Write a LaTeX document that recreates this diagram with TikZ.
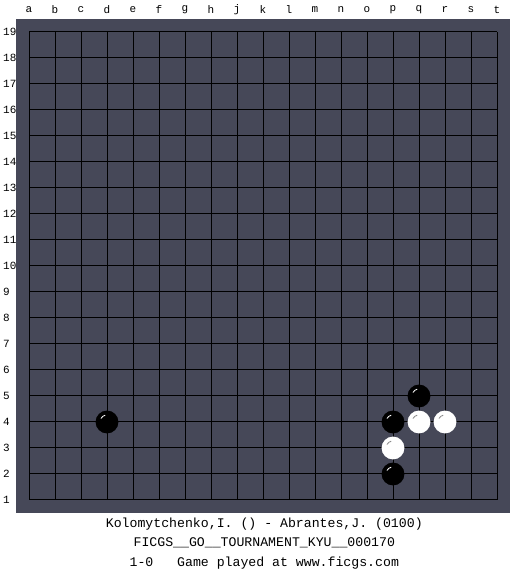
\documentclass[tikz,border=0pt]{standalone}
\usepackage{fontspec}
\setmonofont{Liberation Mono}
\definecolor{boardBg}{HTML}{464858}
\definecolor{shineGray}{HTML}{8A8A8A}

\tikzset{
    coordlabel/.style={font=\ttfamily\fontsize{11}{13}\selectfont, inner sep=0pt},
    infotext/.style={font=\ttfamily\fontsize{13.2}{15}\selectfont, inner sep=0pt},
    blackstone/.style={fill=black},
    whitestone/.style={fill=white}
}

\begin{document}
\begin{tikzpicture}[x=26pt, y=26pt]

    \useasboundingbox (-29pt,-75pt) rectangle (496pt,500pt);

    % board
    \fill[boardBg] (-0.5,-0.5) rectangle (18.5,18.5);

    % grid
    \foreach \i in {0,...,18} {
        \draw[black, line width=1pt] (\i,0) -- (\i,18);
        \draw[black, line width=1pt] (0,\i) -- (18,\i);
    }

    % column letters (no i)
    \foreach \l [count=\i from 0] in {a,b,c,d,e,f,g,h,j,k,l,m,n,o,p,q,r,s,t} {
        \node[coordlabel] (col\l) at (\i,18.85) {\l};
    }

    % row numbers
    \foreach \r in {1,...,19} {
        \node[coordlabel, anchor=west] (row\r) at (-1.0,\r-1) {\r};
    }

    % black stones
    \foreach \x/\y in {3/3, 15/4, 14/3, 14/1} {
        \fill[blackstone] (\x,\y) circle (0.44);
        \draw[white, line width=0.8pt] ([shift={(105:0.27)}]\x,\y) arc (105:150:0.27);
    }

    % white stones
    \foreach \x/\y in {15/3, 16/3, 14/2} {
        \fill[whitestone] (\x,\y) circle (0.44);
        \draw[shineGray, line width=0.8pt] ([shift={(105:0.27)}]\x,\y) arc (105:150:0.27);
    }

    % game info
    \node[infotext] (players) at (9.05,-24pt) {Kolomytchenko,I. () - Abrantes,J. (0100)};
    \node[infotext] (event) at (9.05,-43pt) {FICGS\_\_GO\_\_TOURNAMENT\_KYU\_\_000170};
    \node[infotext] (result) at (9.05,-63pt) {1-0\ \ \ Game played at www.ficgs.com};

\end{tikzpicture}
\end{document}
